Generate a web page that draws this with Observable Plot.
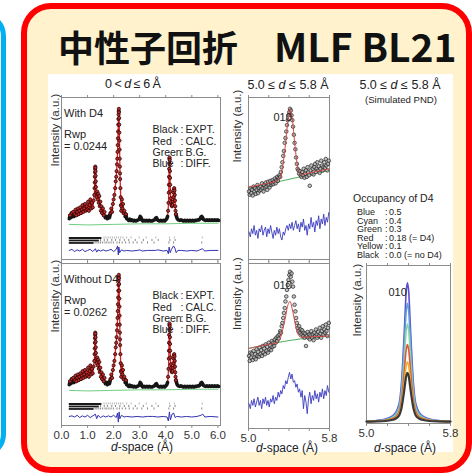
<!DOCTYPE html>
<html><head><meta charset="utf-8">
<script src="https://cdn.jsdelivr.net/npm/d3@7"></script>
<script src="https://cdn.jsdelivr.net/npm/@observablehq/plot@0.6"></script>
<style>
html,body{margin:0;padding:0;background:#fff;}
#root{position:relative;width:472px;height:476px;overflow:hidden;font-family:"Liberation Sans",Arial,sans-serif;color:#222;}
.box{position:absolute;box-sizing:border-box;}
#blue{left:-300px;top:12px;width:306px;height:446px;border:5px solid #00B0F0;border-radius:24px;background:#f2f9fd;}
#red{left:21px;top:3px;width:451px;height:470px;border:6px solid #FF0000;border-radius:30px;background:#FFF2CC;}
#title{position:absolute;left:58px;top:22px;font-family:"Noto Sans CJK JP";font-weight:700;font-size:36px;line-height:46px;height:46px;white-space:nowrap;color:#111;}
#title span{font-size:39px;line-height:46px;}
#fig{left:48px;top:74px;width:405px;height:378px;background:#fff;}
.t{position:absolute;white-space:nowrap;line-height:1;}
</style></head>
<body>
<div id="root">
  <div id="blue" class="box"></div>
  <div id="red" class="box"></div>
  <div id="title">中性子回折　<span>MLF BL21</span></div>
  <div id="fig" class="box"></div>
</div>
<script>
// ---------------- DATA ----------------
const leftTicks = [0, 1, 2, 3, 4, 5, 6];
const midTicks = [5.0, 5.2, 5.4, 5.6, 5.8];
const midTickLabels = [5.0, 5.8];

// full-range powder pattern (d in Å, intensity a.u., baseline 0, max 100)
const profile = [
[0.30,3],[0.33,6],[0.36,4],[0.39,8],[0.42,5],[0.45,9],[0.48,5],[0.51,7],[0.54,11],[0.57,6],[0.60,9],[0.63,12],[0.66,7],[0.69,10],[0.72,13],[0.75,8],[0.78,11],[0.81,15],[0.84,9],[0.87,12],[0.90,16],[0.93,10],[0.96,14],[0.99,11],[1.02,18],[1.05,10],[1.08,15],[1.11,20],[1.14,12],[1.17,17],[1.20,13],[1.23,19],
[1.26,24],[1.27,30],[1.275,35],[1.28,40],[1.285,44],[1.29,47],[1.295,49],[1.30,48],[1.305,45],[1.31,41],[1.315,36],[1.32,31],[1.33,26],
[1.35,22],[1.37,27],[1.39,20],[1.41,25],[1.43,17],[1.45,23],[1.47,14],[1.49,18],[1.51,10],[1.53,14],[1.56,8],[1.59,12],[1.62,6],[1.65,9],[1.68,4],[1.72,5],[1.76,3],[1.80,5],[1.84,4],[1.88,8],[1.91,12],[1.94,9],[1.97,16],[2.00,20],[2.03,24],[2.06,30],
[2.08,36],[2.10,40],[2.115,45],[2.13,51],[2.14,56],[2.15,62],[2.158,68],[2.165,74],[2.172,80],[2.178,86],[2.184,91],[2.19,95],[2.195,98],[2.20,100],[2.205,97],[2.21,92],[2.215,86],[2.22,79],[2.225,72],[2.23,64],[2.235,56],[2.24,49],[2.245,43],[2.25,38],[2.26,30],[2.27,22],[2.28,15],[2.29,10],
[2.30,14],[2.32,20],[2.34,12],[2.36,16],[2.38,8],[2.41,10],[2.44,5],[2.47,7],[2.50,3],
[2.54,2.5],[2.58,1.5],[2.62,2.5],[2.66,1.5],[2.70,2],[2.75,1],[2.80,1.5],[2.85,1],[2.90,1.5],[2.95,2],[2.99,3],[3.02,5],[3.05,4],[3.08,2],[3.12,1],[3.17,1.5],[3.22,1],[3.27,1.5],[3.32,1],[3.37,1.5],[3.42,1],[3.47,1],[3.52,1.5],[3.57,2],[3.61,3.5],[3.64,4],[3.67,2.5],[3.71,1.5],[3.76,1],[3.81,1.5],[3.86,1],[3.91,1.5],[3.96,1],[4.00,2],[4.04,3],[4.07,5],
[4.09,10],[4.105,17],[4.115,26],[4.12,33],[4.125,40],[4.13,47],[4.135,52],[4.14,56],[4.145,57],[4.15,55],[4.155,51],[4.16,45],[4.165,39],[4.17,33],[4.18,27],[4.19,21],[4.20,18],[4.22,15],[4.24,14],[4.26,15],[4.28,18],[4.295,22],[4.305,26],[4.315,29],[4.325,30],[4.335,28],[4.345,24],[4.355,19],[4.365,14],[4.375,10],[4.39,7],[4.41,5],[4.44,3],[4.48,2],
[4.53,1.5],[4.58,2],[4.63,1.5],[4.68,1],[4.73,1.5],[4.78,1],[4.83,1.5],[4.88,1],[4.93,1.5],[4.98,1],[5.03,1.5],[5.08,1],[5.13,1.5],[5.18,1.5],[5.23,2],[5.28,2],[5.32,3],[5.35,4.5],[5.38,5],[5.41,4],[5.44,2.5],[5.48,2],[5.53,1.5],[5.58,2],[5.63,1.5],[5.68,2],[5.73,1.5],[5.78,2],[5.83,1.5],[5.88,2],[5.93,1.5],[5.98,2],[6.03,1.5]
];
const background = [[0.30,-2],[1.0,-2.5],[2.0,-2],[3.0,-1.5],[4.0,-1.5],[5.0,-1],[6.0,-1]];
const diffWith = [[0.3,-25],[0.4,-24],[0.5,-26],[0.6,-24.5],[0.7,-25.5],[0.8,-24],[0.9,-26],[1.0,-25],[1.1,-24],[1.2,-26],[1.3,-23.5],[1.35,-26.5],[1.4,-24.5],[1.5,-25.5],[1.6,-24.5],[1.7,-25.5],[1.8,-25],[1.9,-24],[2.0,-26],[2.1,-24],[2.15,-21],[2.18,-29],[2.2,-22],[2.23,-27],[2.3,-24.5],[2.4,-25.5],[2.5,-25],[2.7,-25.5],[2.9,-25],[3.0,-24.5],[3.1,-25.5],[3.3,-25],[3.6,-25],[3.7,-24.5],[3.9,-25.5],[4.05,-25],[4.1,-28],[4.13,-22],[4.17,-27],[4.22,-24],[4.3,-21],[4.35,-23],[4.4,-27],[4.46,-25],[4.6,-25],[4.8,-25.5],[5.0,-25],[5.2,-25.5],[5.3,-24.5],[5.4,-23.5],[5.5,-25.5],[5.7,-25],[6.0,-25]];
const diffWithout = [[0.3,-25],[0.4,-24.5],[0.5,-25.5],[0.6,-24],[0.7,-26],[0.8,-24.5],[0.9,-25.5],[1.0,-24],[1.1,-26],[1.2,-24.5],[1.3,-23],[1.35,-27],[1.4,-24],[1.5,-26],[1.6,-24.5],[1.7,-25.5],[1.8,-24.5],[1.9,-25.5],[2.0,-24],[2.1,-26],[2.15,-22],[2.18,-30],[2.21,-21],[2.24,-27],[2.3,-24],[2.4,-25.5],[2.5,-25],[2.7,-25.5],[2.9,-25],[3.1,-25.5],[3.3,-25],[3.5,-25],[3.7,-25.5],[3.9,-25],[4.05,-25.5],[4.1,-29],[4.14,-21],[4.18,-28],[4.24,-23],[4.3,-22],[4.36,-26],[4.42,-25],[4.6,-25.5],[4.8,-25],[5.0,-25.5],[5.2,-25],[5.35,-24],[5.42,-23],[5.5,-25.5],[5.7,-25],[6.0,-25.5]];
// reflection markers: three phases (rows), dense part start/end and sparse ticks
const reflRows = [-14, -16.2, -18.4];
const reflDense = [[0.3,1.55],[0.3,1.45],[0.3,1.25]];
const reflSparse = [
 [1.63,1.71,1.79,1.87,1.95,2.03,2.11,2.19,2.27,2.36,2.5,2.67,2.98,3.25,3.62,4.14,4.33,5.40],
 [1.50,1.64,1.76,1.93,2.07,2.24,2.41,2.58,2.83,3.14,3.47,3.71,4.16,4.36],
 [1.29,1.36,1.43,1.5,1.58,1.67,1.74,1.82,1.9,1.99,2.13,2.22,2.33,2.46,2.6,2.75,2.9,3.08,3.3,3.55,4.12,4.3,5.38]
];

// 5.0–5.8 Å zoom, with D4
const zoomWithObs = [[5.005,42],[5.012,40],[5.02,44],[5.027,41],[5.035,43],[5.042,39.5],[5.05,45],[5.058,42],[5.065,44],[5.072,40.5],[5.08,43],[5.088,46],[5.095,41],[5.103,44],[5.11,42.5],[5.118,45],[5.125,43],[5.133,47],[5.14,44],[5.148,42],[5.155,46],[5.163,44.5],[5.17,47.5],[5.178,45],[5.185,43],[5.193,48],[5.20,46],[5.208,44.5],[5.215,48.5],[5.223,46],[5.23,47],[5.238,49],[5.245,46.5],[5.253,48],[5.26,50],[5.268,47],[5.275,49],[5.283,51],[5.29,48.5],[5.298,50.5],
[5.305,52],[5.313,51],[5.32,54],[5.328,57],[5.335,60],[5.343,64],[5.35,67],[5.358,72],[5.365,75],[5.373,79],[5.38,83],[5.388,86],[5.395,89],[5.403,91],[5.41,93],[5.418,92],[5.425,89],[5.433,86],[5.44,82],[5.448,77],[5.455,72],[5.463,68],[5.47,63],[5.478,59],[5.485,56],[5.493,55],[5.50,53],[5.508,54.5],[5.515,52],
[5.523,51],[5.53,54],[5.538,52],[5.545,56],[5.553,50.5],[5.56,53],[5.568,55],[5.575,51],[5.583,57],[5.59,54],[5.598,52],[5.605,45.5],[5.613,55],[5.62,58],[5.628,53],[5.635,56],[5.643,52.5],[5.65,57],[5.658,59],[5.665,54],[5.673,56],[5.68,60],[5.688,55],[5.695,57.5],[5.703,53.5],[5.71,56],[5.718,61],[5.725,58],[5.733,55],[5.74,57],[5.748,60],[5.755,56.5],[5.763,62],[5.77,58],[5.778,55],[5.785,59],[5.793,61]];
const zoomWithCalc = [[5.0,44.6],[5.1,45.9],[5.2,47.2],[5.28,48.5],[5.31,50],[5.33,55],[5.35,63],[5.37,74],[5.39,86],[5.41,93],[5.43,88],[5.45,76],[5.47,64],[5.49,56],[5.51,53],[5.53,52.5],[5.6,53.4],[5.7,54.7],[5.8,56]];
const zoomWithBg = [[5.0,44],[5.4,49.5],[5.8,55]];
const zoomWithDiff = [[5.005,17],[5.018,14],[5.03,19],[5.043,16],[5.055,21],[5.068,15],[5.08,18],[5.093,13],[5.105,19],[5.118,17],[5.13,21],[5.143,15],[5.155,18],[5.168,20],[5.18,14],[5.193,19],[5.205,16],[5.218,21],[5.23,17],[5.243,13],[5.255,18],[5.268,15],[5.28,20],[5.293,16],[5.305,19],[5.318,14],[5.33,12],[5.343,17],[5.355,15],[5.368,19],[5.38,21],[5.393,18],[5.405,22],[5.418,19],[5.43,23],[5.443,18],[5.455,21],[5.468,24],[5.48,19],[5.493,22],[5.505,17],[5.518,23],[5.53,20],[5.543,25],[5.555,18],[5.568,21],[5.58,15],[5.593,22],[5.605,19],[5.618,26],[5.63,20],[5.643,23],[5.655,17],[5.668,24],[5.68,21],[5.693,27],[5.705,19],[5.718,25],[5.73,22],[5.743,28],[5.755,21],[5.768,26],[5.78,23],[5.793,29]];

// 5.0–5.8 Å zoom, without D4
const zoomWithoutObs = [[5.005,44],[5.012,41],[5.02,46],[5.027,43],[5.035,45.5],[5.042,41.5],[5.05,47],[5.058,43],[5.065,45],[5.072,42],[5.08,48],[5.088,44],[5.095,46.5],[5.103,43.5],[5.11,49],[5.118,45],[5.125,47.5],[5.133,44],[5.14,50],[5.148,46],[5.155,48.5],[5.163,45],[5.17,51],[5.178,47],[5.185,49.5],[5.193,46],[5.20,52],[5.208,48],[5.215,50.5],[5.223,47.5],[5.23,53],[5.238,49.5],[5.245,52],[5.253,50],[5.26,54],[5.268,52],[5.275,55],[5.283,53],[5.29,56],[5.298,54.5],
[5.305,57],[5.313,59],[5.32,58],[5.328,62],[5.335,64],[5.343,67],[5.35,70],[5.358,73],[5.365,77],[5.373,80],[5.38,84],[5.388,87],[5.395,90],[5.403,93],[5.41,95],[5.418,92],[5.425,94],[5.433,89],[5.44,86],[5.448,80],[5.455,75],[5.463,71],[5.47,67],[5.478,64],[5.485,61],[5.493,59],[5.50,62],[5.508,58],[5.515,60],
[5.523,57],[5.53,59.5],[5.538,56],[5.545,58],[5.553,55],[5.56,57.5],[5.568,50],[5.575,56],[5.583,58.5],[5.59,55],[5.598,57],[5.605,54],[5.613,56.5],[5.62,59],[5.628,55],[5.635,57],[5.643,53.5],[5.65,58],[5.658,56],[5.665,60],[5.673,57],[5.68,55],[5.688,58.5],[5.695,56],[5.703,61],[5.71,57.5],[5.718,55],[5.725,59],[5.733,62],[5.74,57],[5.748,60],[5.755,58],[5.763,63],[5.77,59],[5.778,56],[5.785,61],[5.793,64]];
const zoomWithoutCalc = [[5.0,48.5],[5.1,49.8],[5.2,51],[5.28,52],[5.31,54],[5.33,58],[5.35,63],[5.37,69],[5.39,75],[5.41,77],[5.43,73],[5.45,67],[5.47,61],[5.49,57],[5.51,55.5],[5.53,55.3],[5.6,55.5],[5.7,55.8],[5.8,56]];
const zoomWithoutBg = [[5.0,48.5],[5.2,51.2],[5.4,53.3],[5.6,55],[5.8,56]];
const zoomWithoutDiff = [[5.005,15],[5.018,12],[5.03,17],[5.043,14],[5.055,18],[5.068,13],[5.08,16],[5.093,19],[5.105,14],[5.118,17],[5.13,12],[5.143,18],[5.155,15],[5.168,19],[5.18,14],[5.193,17],[5.205,13],[5.218,18],[5.23,16],[5.243,20],[5.255,15],[5.268,19],[5.28,17],[5.293,22],[5.305,19],[5.318,23],[5.33,21],[5.343,26],[5.355,24],[5.368,29],[5.38,27],[5.393,31],[5.405,34],[5.418,30],[5.43,33],[5.443,28],[5.455,29],[5.468,25],[5.48,27],[5.493,22],[5.505,24],[5.518,19],[5.53,23],[5.543,12],[5.555,20],[5.568,16],[5.58,9],[5.593,18],[5.605,22],[5.618,15],[5.63,20],[5.643,17],[5.655,23],[5.668,18],[5.68,21],[5.693,16],[5.705,22],[5.718,19],[5.73,24],[5.743,18],[5.755,23],[5.768,20],[5.78,26],[5.793,22]];

// simulated PND, 010 peak for several D4 occupancies
const simD = [5.00,5.10,5.18,5.24,5.28,5.31,5.33,5.35,5.36,5.37,5.38,5.39,5.40,5.41,5.42,5.43,5.45,5.47,5.50,5.54,5.60,5.68,5.80];
const simBlue   = [1.4,1.9,2.8,4.5,7.2,12.4,23,45,58,73,85,89,85,73,58,45,23,12.4,7.2,4.5,2.8,1.9,1.4];
const simCyan   = [1.4,1.8,2.5,4,6.3,10.8,19.8,38.5,49.8,62.5,72.3,76,72.3,62.5,49.8,38.5,19.8,10.8,6.3,4,2.5,1.8,1.4];
const simGreen  = [1.3,1.6,2.2,3.5,5.3,9.1,16.5,32,41.3,51.8,59.9,63,59.9,51.8,41.3,32,16.5,9.1,5.3,3.5,2.2,1.6,1.3];
const simRed    = [1.2,1.5,2,3,4.4,7.4,13.3,25.5,32.9,41.2,47.6,50,47.6,41.2,32.9,25.5,13.3,7.4,4.4,3,2,1.5,1.2];
const simYellow = [1.2,1.4,1.8,2.5,3.7,5.9,10.5,20,25.7,32.2,37.1,39,37.1,32.2,25.7,20,10.5,5.9,3.7,2.5,1.8,1.4,1.2];
const simBlack  = [1.2,1.3,1.6,2.2,3.2,5,8.8,16.5,21.2,26.4,30.5,32,30.5,26.4,21.2,16.5,8.8,5,3.2,2.2,1.6,1.3,1.2];
const simSeries = [["Blue",simBlue,"#5b4fd0"],["Cyan",simCyan,"#5f9fd8"],["Green",simGreen,"#88d6aa"],["Red",simRed,"#e2573a"],["Yellow",simYellow,"#f0b030"],["Black",simBlack,"#3a3a3a"]];

const legendNames = ["Black","Red","Green","Blue"];
const legendValues = ["EXPT.","CALC.","B.G.","DIFF."];
const occNames = ["Blue","Cyan","Green","Red","Yellow","Black"];
const occValues = ["0.5","0.4","0.3","0.18 (= D4)","0.1","0.0 (= no D4)"];

// ---------------- DRAW ----------------
const root = document.getElementById("root");
const pts = a => a.map(([d, I]) => ({d, I}));
const style = "overflow:visible;background:transparent;font-family:'Liberation Sans',Arial,sans-serif;font-size:11px;color:#222;";
const axisGray = "#8c8c8c";
function place(el, x, y) { el.style.position = "absolute"; el.style.left = x + "px"; el.style.top = y + "px"; root.appendChild(el); }
function text(html, x, y, size, anchor = "middle") {
  const d = document.createElement("div");
  d.className = "t"; d.innerHTML = html; d.style.fontSize = size + "px";
  d.style.transform = anchor === "middle" ? "translate(-50%,-50%)" : "translate(0,-50%)";
  place(d, x, y);
}
const ylab = (dx, dy) => Plot.text(["Intensity (a.u.)"], {frameAnchor: "left", rotate: -90, dx, dy, fontSize: 11.5, fill: "#333"});

function leftPanel(top, name, rwp, diff, bottom) {
  const ml = 20, mr = 4, mt = 5, mb = bottom ? 20 : 5, w = 159, h = 162;
  const prof = pts(profile);
  const sparse = reflSparse.flatMap((arr, i) => arr.map(d => ({d, y: reflRows[i], row: i})));
  const dense = reflDense.map(([a, b], i) => ({x1: a, x2: b, y: reflRows[i]}));
  const svg = Plot.plot({
    width: w + ml + mr, height: h + mt + mb, marginLeft: ml, marginRight: mr, marginTop: mt, marginBottom: mb,
    style, x: {domain: [0, 6.1]}, y: {domain: [-33, 110], axis: null},
    marks: [
      Plot.frame({stroke: axisGray}),
      Plot.axisX({anchor: "top", ticks: leftTicks, tickSize: 3, tickFormat: () => "", label: null, stroke: axisGray}),
      Plot.axisX({anchor: "bottom", ticks: leftTicks, tickSize: 3, tickPadding: 2, tickFormat: bottom ? (d => d.toFixed(1)) : () => "", label: null, stroke: axisGray, fontSize: 11.5, fill: "#333"}),
      Plot.line(pts(background), {x: "d", y: "I", stroke: "#6fcf7f", strokeWidth: 1}),
      Plot.line(prof, {x: "d", y: "I", stroke: "#e02020", strokeWidth: 1.3}),
      Plot.line(prof, {x: "d", y: p => p.I < 9 ? p.I : NaN, stroke: "#151515", strokeWidth: 3.6}),
      Plot.dot(prof.filter(p => p.I >= 6), {x: "d", y: "I", r: 1.6, stroke: "#2a0505", strokeWidth: 0.8, fill: "#c42a2a"}),
      Plot.ruleY(dense, {y: "y", x1: "x1", x2: "x2", stroke: "#1a1a1a", strokeWidth: 1.8}),
      Plot.ruleX(sparse, {x: "d", y1: r => r.y - 0.9, y2: r => r.y + 0.9, stroke: r => r.row === 0 ? "#999" : "#555", strokeWidth: 0.7}),
      Plot.line(pts(diff), {x: "d", y: "I", stroke: "#3333b0", strokeWidth: 1}),
      Plot.text([name], {frameAnchor: "top-left", dx: 2.5, dy: 11.5, textAnchor: "start", fontSize: 11, fill: "#222"}),
      Plot.text(["Rwp\n= " + rwp], {frameAnchor: "top-left", dx: 2.5, dy: 32, textAnchor: "start", lineHeight: 1.08, fontSize: 11, fill: "#222"}),
      Plot.text([legendNames.join("\n")], {frameAnchor: "top-right", dx: -68, dy: 28, textAnchor: "start", lineHeight: 1.06, fontSize: 10.5, fill: "#222"}),
      Plot.text([legendNames.map(() => ":").join("\n")], {frameAnchor: "top-right", dx: -40, dy: 28, textAnchor: "start", lineHeight: 1.06, fontSize: 10.5, fill: "#222"}),
      Plot.text([legendValues.join("\n")], {frameAnchor: "top-right", dx: -35, dy: 28, textAnchor: "start", lineHeight: 1.06, fontSize: 10.5, fill: "#222"}),
      ylab(-6, -12)
    ]
  });
  place(svg, 61 - ml, top - mt);
}

function midPanel(top, h, obs, calc, bg, diff, labDy, bottom) {
  const ml = 16, mr = 4, mt = 5, mb = bottom ? 20 : 5, w = 81;
  const svg = Plot.plot({
    width: w + ml + mr, height: h + mt + mb, marginLeft: ml, marginRight: mr, marginTop: mt, marginBottom: mb,
    style, x: {domain: [5.0, 5.8]}, y: {domain: [0, 100], axis: null},
    marks: [
      Plot.frame({stroke: axisGray}),
      Plot.axisX({anchor: "top", ticks: midTicks, tickSize: 3, tickFormat: () => "", label: null, stroke: axisGray}),
      Plot.axisX({anchor: "bottom", ticks: midTicks, tickSize: 3, tickPadding: 2, tickFormat: bottom ? (d => midTickLabels.includes(d) ? d.toFixed(1) : "") : () => "", label: null, stroke: axisGray, fontSize: 11.5, fill: "#333"}),
      Plot.line(pts(bg), {x: "d", y: "I", stroke: "#3aa64a", strokeWidth: 0.9}),
      Plot.dot(pts(obs), {x: "d", y: "I", r: 1.8, stroke: "#222", strokeWidth: 0.7, fill: "#a8a8a8", fillOpacity: 0.7}),
      Plot.line(pts(calc), {x: "d", y: "I", stroke: "#d84a4a", strokeWidth: 1, curve: "catmull-rom"}),
      Plot.line(pts(diff), {x: "d", y: "I", stroke: "#3a3ac0", strokeWidth: 0.9}),
      Plot.text(["010"], {frameAnchor: "top-left", dx: 25, dy: labDy, fontSize: 11, fill: "#222"}),
      ylab(-11, -16)
    ]
  });
  place(svg, 248 - ml, top - mt);
}

function simPanel() {
  const ml = 16, mr = 4, mt = 5, mb = 20, w = 84, h = 158;
  const rows = simSeries.flatMap(([name, vals, color]) => vals.map((I, i) => ({d: simD[i], I, name, color})));
  const svg = Plot.plot({
    width: w + ml + mr, height: h + mt + mb, marginLeft: ml, marginRight: mr, marginTop: mt, marginBottom: mb,
    style, x: {domain: [5.0, 5.8]}, y: {domain: [0, 100], axis: null},
    marks: [
      Plot.frame({stroke: axisGray}),
      Plot.axisX({anchor: "top", ticks: midTicks, tickSize: 3, tickFormat: () => "", label: null, stroke: axisGray}),
      Plot.axisX({anchor: "bottom", ticks: midTicks, tickSize: 3, tickPadding: 2, tickFormat: d => midTickLabels.includes(d) ? d.toFixed(1) : "", label: null, stroke: axisGray, fontSize: 11.5, fill: "#333"}),
      Plot.line(rows, {x: "d", y: "I", z: "name", stroke: "color", strokeWidth: r => r.name === "Black" ? 2.2 : 1.6, curve: "catmull-rom"}),
      Plot.text(["010"], {frameAnchor: "top-left", dx: 22, dy: 23, fontSize: 11, fill: "#222"}),
      ylab(-9, -8)
    ]
  });
  place(svg, 366 - ml, 265 - mt);
}

leftPanel(97, "With D4", "0.0244", diffWith, false);
leftPanel(263, "Without D4", "0.0262", diffWithout, true);
midPanel(97, 162, zoomWithObs, zoomWithCalc, zoomWithBg, zoomWithDiff, 16, false);
midPanel(263, 165, zoomWithoutObs, zoomWithoutCalc, zoomWithoutBg, zoomWithoutDiff, 18, true);
simPanel();

// column titles and axis labels
text("0&#8201;&lt;&#8201;<i>d</i>&#8201;≤&#8201;6&#8201;Å", 133, 84, 12.5);
text("5.0 ≤ <i>d</i> ≤ 5.8 Å", 288, 85, 12.5);
text("5.0 ≤ <i>d</i> ≤ 5.8 Å", 400, 85, 12.5);
text("(Simulated PND)", 401, 100, 9.6);
text("<i>d</i>-space (Å)", 142, 447, 12);
text("<i>d</i>-space (Å)", 287, 448, 12);
text("<i>d</i>-space (Å)", 405, 448, 12);
text("Occupancy of D4", 353, 198, 10.5, "start");
occNames.forEach((n, i) => {
  const y = 212 + i * 8.6;
  text(n, 357, y, 9, "start");
  text(":", 385, y, 9, "start");
  text(occValues[i], 389, y, 9, "start");
});
</script>
</body></html>
